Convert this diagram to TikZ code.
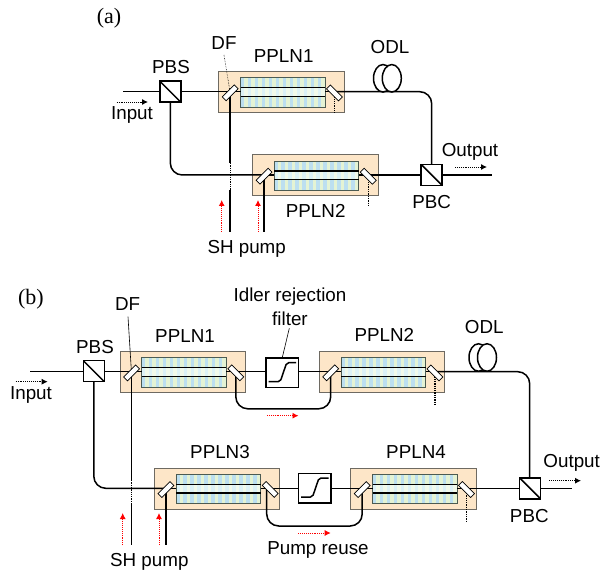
\documentclass[tikz,border=0pt]{standalone}
\usepackage{fontspec}
\setmainfont{Liberation Sans}
\newfontfamily\serifl{Liberation Serif}
\usetikzlibrary{arrows.meta,calc,shapes.geometric}
\definecolor{boxfill}{HTML}{FDE6C8}
\definecolor{boxedge}{HTML}{6E6A62}
\definecolor{stripeA}{HTML}{BCDFF0}
\definecolor{stripeB}{HTML}{E4F3D4}
\definecolor{stripeC}{HTML}{DCF1F6}
\definecolor{stripeD}{HTML}{F1F9EA}
\definecolor{chipedge}{HTML}{4C5B52}
\tikzset{
  x=1pt,y=-1pt,
  lbl/.style={inner sep=0pt,font=\fontsize{18.8}{20}\selectfont},
  tag/.style={inner sep=0pt,font=\serifl\fontsize{22}{24}\selectfont},
  fiber/.style={draw=black,line width=1.5pt},
  fibercorner/.style={fiber,rounded corners=12pt},
  modbox/.style={draw=boxedge,fill=boxfill,line width=1pt,minimum width=125.5pt,minimum height=41pt,inner sep=0pt,outer sep=0pt},
  chipbox/.style={minimum width=84.5pt,minimum height=29.5pt,inner sep=0pt,outer sep=0pt},
  mirrorbox/.style={draw=black,fill=white,line width=0.7pt,minimum width=17pt,minimum height=5.5pt,inner sep=0pt,outer sep=0pt},
  cube/.style={draw=black,fill=white,line width=1.5pt,minimum size=21pt,inner sep=0pt,outer sep=0pt,
    path picture={\draw[line width=1.5pt] (path picture bounding box.north west) -- (path picture bounding box.south east);}},
  filterbox/.style={draw=black,fill=white,line width=1.5pt,minimum width=32.5pt,minimum height=29.5pt,inner sep=0pt,outer sep=0pt,
    path picture={\draw[line width=1.5pt,rounded corners=2pt] ($(path picture bounding box.center)+(-13.5,9)$) -- ($(path picture bounding box.center)+(-2,9)$) -- ($(path picture bounding box.center)+(4.5,-10)$) -- ($(path picture bounding box.center)+(14,-10)$);}},
  coil/.style={ellipse,draw=black,fill=white,line width=1.5pt,minimum width=19pt,minimum height=27.5pt,inner sep=0pt,outer sep=0pt},
  dotflow/.style={draw=black,line width=0.9pt,densely dotted,-{Latex[length=6pt,width=6pt]}},
  redflow/.style={draw=red,line width=0.9pt,densely dotted,-{Latex[length=6pt,width=6pt]}},
  dotstub/.style={draw=black,line width=1.3pt,densely dotted},
  leader/.style={draw=black,line width=0.6pt},
  dotleader/.style={draw=black,line width=0.6pt,densely dotted},
}
% \ppln{name}{centre x}{main line y}
\newcommand{\ppln}[3]{%
  \node[modbox] (#1box) at (#2,#3+0.3) {};
  \node[chipbox] (#1chip) at (#2+1.3,#3+0.8) {};
  \foreach \k in {0,...,11}{
    \fill[stripeA] ($(#1chip.north west)+(\k*7,0)$) rectangle +(3.6,29.5);
    \fill[stripeB] ($(#1chip.north west)+(\k*7+3.6,0)$) rectangle +(3.4,29.5);
    \fill[stripeC] ($(#1chip.north west)+(\k*7,10.4)$) rectangle +(3.6,8.7);
    \fill[stripeD] ($(#1chip.north west)+(\k*7+3.6,10.4)$) rectangle +(3.4,8.7);
  }
  \draw[chipedge,line width=1pt] (#1chip.north west) rectangle (#1chip.south east);
  \draw[black,line width=1.4pt] ($(#1chip.north west)+(0,10)$) -- ($(#1chip.north east)+(0,10)$);
  \draw[black,line width=1.4pt] ($(#1chip.north west)+(0,18.7)$) -- ($(#1chip.north east)+(0,18.7)$);
  \coordinate (#1Lc) at (#2-51.3,#3);
  \coordinate (#1Rc) at (#2+53,#3);
}
\newcommand{\mirrors}[1]{%
  \node[mirrorbox,rotate=45] (#1L) at ($(#1Lc)+(0,1.2)$) {};
  \node[mirrorbox,rotate=-45] (#1R) at ($(#1Rc)+(0,1.2)$) {};
}
\begin{document}
\begin{tikzpicture}
\useasboundingbox (0,0) rectangle (603,572);
\fill[white] (0,0) rectangle (603,572);

%%% ---------- (a) ----------
\node[tag] (tagA) at (109,18) {(a)};
\ppln{aa}{281.5}{91.7}
\ppln{ab}{315.3}{175}

\node[cube] (pbsA) at (170.3,91.7) {};
\node[cube] (pbcA) at (431.7,175) {};
\coordinate (inA) at (123,91.7);
\coordinate (outA) at (491.7,175);
\coordinate (cornerA) at (431.7,91.7);
\coordinate (cornerB) at (170.3,175);
\coordinate (shA1top) at (230,163);
\coordinate (shA1bot) at (230,190);
\coordinate (shA1end) at (230,232);
\coordinate (shA2end) at (264,232);
\coordinate (stubA1) at (334.5,113);
\coordinate (stubA2) at (368.3,207);

\draw[fiber] (inA) -- (pbsA.west);
\draw[fiber] (pbsA.east) -- (aaLc);
\draw[fiber] (aaLc) -- (aachip.west |- aaLc);
\draw[fiber] (aachip.east |- aaRc) -- (aaRc);
\draw[fibercorner] (aaRc) -- (cornerA) -- (pbcA.north);
\draw[fibercorner] (pbsA.south) -- (cornerB) -- (abLc);
\draw[fiber] (abLc) -- (abchip.west |- abLc);
\draw[fiber] (abchip.east |- abRc) -- (abRc);
\draw[fiber] (abRc) -- (pbcA.west);
\draw[fiber] (pbcA.east) -- (outA);
\draw[fiber] (aaLc) -- (aaLc |- shA1top);
\draw[dotstub] (aaLc |- shA1top) -- (aaLc |- shA1bot);
\draw[fiber] (aaLc |- shA1bot) -- (aaLc |- shA1end);
\draw[fiber] (abLc) -- (abLc |- shA2end);
\draw[dotstub] (aaRc) -- (aaRc |- stubA1);
\draw[dotstub] (abRc) -- (abRc |- stubA2);
\mirrors{aa}
\mirrors{ab}

\node[coil] (odlA1) at (383,78.3) {};
\node[coil] (odlA2) at (391.8,78.3) {};

\node[lbl] (lblDFa) at (224,43) {DF};
\node[lbl] (lblPBSa) at (171,67) {PBS};
\node[lbl] (lblInA) at (132,115) {Input};
\node[lbl] (lblP1a) at (283.7,56) {PPLN1};
\node[lbl] (lblP2a) at (315.7,211) {PPLN2};
\node[lbl] (lblODLa) at (390,47) {ODL};
\node[lbl] (lblOutA) at (470,151.7) {Output};
\node[lbl] (lblPBCa) at (431.7,201.7) {PBC};
\node[lbl] (lblSHa) at (246.7,249) {SH pump};

\coordinate (ldA) at (224,55);
\draw[dotleader] (ldA) -- (aaL);
\coordinate (iA1) at (116.7,102); \coordinate (iA2) at (148,102);
\draw[dotflow] (iA1) -- (iA2);
\coordinate (oA1) at (455,167); \coordinate (oA2) at (487,167);
\draw[dotflow] (oA1) -- (oA2);
\coordinate (rA1) at (221.7,232); \coordinate (rA2) at (221.7,200);
\draw[redflow] (rA1) -- (rA2);
\coordinate (rA3) at (258,232); \coordinate (rA4) at (258,200);
\draw[redflow] (rA3) -- (rA4);

%%% ---------- (b) ----------
\node[tag] (tagB) at (31,299) {(b)};
\ppln{ba}{182.8}{371.7}
\ppln{bb}{382}{371.7}
\ppln{bc}{217.2}{488.3}
\ppln{bd}{413.5}{488.3}

\node[cube] (pbsB) at (93.8,371.2) {};
\node[cube] (pbcB) at (530,488.3) {};
\node[filterbox] (fltA) at (282.2,372.7) {};
\node[filterbox] (fltB) at (314.5,488) {};
\coordinate (inB) at (30,371.7);
\coordinate (outB) at (571.7,488.3);
\coordinate (cornerC) at (529.7,371.7);
\coordinate (cornerD) at (93.8,488.3);
\coordinate (shB1top) at (130,480);
\coordinate (shB1bot) at (130,503);
\coordinate (shB1end) at (130,545);
\coordinate (shB2end) at (166,545);
\coordinate (reuse1y) at (235.7,408.8);
\coordinate (reuse2a) at (266.7,526);
\coordinate (stubB1) at (434.5,404);
\coordinate (stubB2) at (466,520.7);

\draw[fiber] (inB) -- (pbsB.west |- inB);
\draw[fiber] (pbsB.east |- inB) -- (baLc);
\draw[fiber] (baLc) -- (bachip.west |- baLc);
\draw[fiber] (bachip.east |- baRc) -- (baRc);
\draw[fiber] (baRc) -- (fltA.west |- baRc);
\draw[fiber] (fltA.east |- bbLc) -- (bbLc);
\draw[fiber] (bbLc) -- (bbchip.west |- bbLc);
\draw[fiber] (bbchip.east |- bbRc) -- (bbRc);
\draw[fibercorner] (bbRc) -- (cornerC) -- (pbcB.north -| cornerC);
\draw[fibercorner] (pbsB.south) -- (cornerD) -- (bcLc);
\draw[fiber] (bcLc) -- (bcchip.west |- bcLc);
\draw[fiber] (bcchip.east |- bcRc) -- (bcRc);
\draw[fiber] (bcRc) -- (fltB.west |- bcRc);
\draw[fiber] (fltB.east |- bdLc) -- (bdLc);
\draw[fiber] (bdLc) -- (bdchip.west |- bdLc);
\draw[fiber] (bdchip.east |- bdRc) -- (bdRc);
\draw[fiber] (bdRc) -- (pbcB.west);
\draw[fiber] (pbcB.east) -- (outB);
\draw[fiber] (baLc) -- (baLc |- shB1top);
\draw[dotstub] (baLc |- shB1top) -- (baLc |- shB1bot);
\draw[fiber] (baLc |- shB1bot) -- (baLc |- shB1end);
\draw[fiber] (bcLc) -- (bcLc |- shB2end);
\draw[fibercorner] (baRc) -- (baRc |- reuse1y) -- (bbLc |- reuse1y) -- (bbLc);
\draw[fibercorner] (reuse2a |- bcRc) -- (reuse2a) -- (bdLc |- reuse2a) -- (bdLc);
\draw[dotstub] (bbRc) -- (bbRc |- stubB1);
\draw[dotstub] (bdRc) -- (bdRc |- stubB2);
\mirrors{ba}
\mirrors{bb}
\mirrors{bc}
\mirrors{bd}

\node[coil] (odlB1) at (478.5,357.5) {};
\node[coil] (odlB2) at (487,357.5) {};

\node[lbl] (lblDFb) at (127.7,304) {DF};
\node[lbl] (lblPBSb) at (95,346.7) {PBS};
\node[lbl] (lblInB) at (31,395) {Input};
\node[lbl] (lblP1b) at (185,336) {PPLN1};
\node[lbl] (lblP2b) at (384.3,335) {PPLN2};
\node[lbl] (lblP3b) at (220,452.3) {PPLN3};
\node[lbl] (lblP4b) at (416,452.3) {PPLN4};
\node[lbl] (lblODLb) at (484.3,326.7) {ODL};
\node[lbl] (lblIdl1) at (290,297) {Idler rejection};
\node[lbl] (lblIdl2) at (290,319) {filter};
\node[lbl] (lblOutB) at (571.7,463.3) {Output};
\node[lbl] (lblPBCb) at (529.3,515.7) {PBC};
\node[lbl] (lblSHb) at (149.3,561.7) {SH pump};
\node[lbl] (lblReuse) at (318,550) {Pump reuse};

\coordinate (ldB) at (128,316.7);
\draw[leader] (ldB) -- (baL);
\coordinate (ldC) at (289.3,328.3);
\draw[leader] (ldC) -- (fltA.north);
\coordinate (iB1) at (15.7,381.7); \coordinate (iB2) at (47.7,381.7);
\draw[dotflow] (iB1) -- (iB2);
\coordinate (oB1) at (549.3,480.7); \coordinate (oB2) at (581,480.7);
\draw[dotflow] (oB1) -- (oB2);
\coordinate (rB1) at (122.7,545); \coordinate (rB2) at (122.7,513);
\draw[redflow] (rB1) -- (rB2);
\coordinate (rB3) at (159,545); \coordinate (rB4) at (159,513);
\draw[redflow] (rB3) -- (rB4);
\coordinate (rB5) at (267,415.7); \coordinate (rB6) at (298.5,415.7);
\draw[redflow] (rB5) -- (rB6);
\coordinate (rB7) at (298.3,533); \coordinate (rB8) at (330.7,533);
\draw[redflow] (rB7) -- (rB8);
\end{tikzpicture}
\end{document}
